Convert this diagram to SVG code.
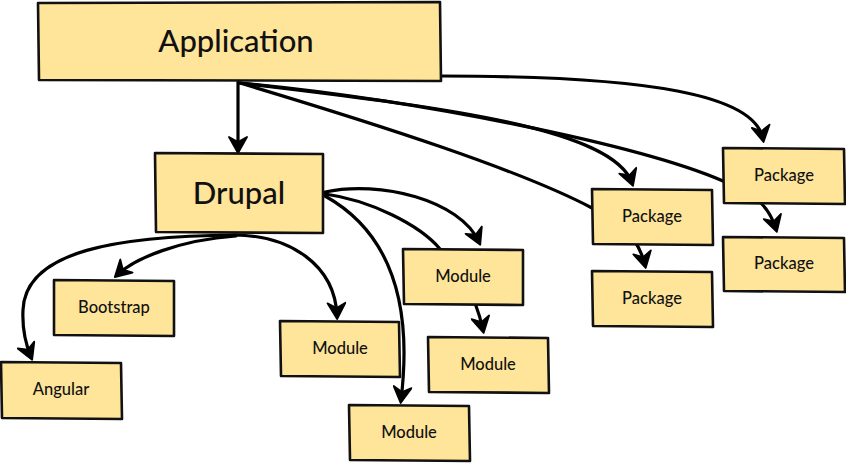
<svg xmlns="http://www.w3.org/2000/svg" width="846" height="463" viewBox="0 0 846 463">
<style>
.box{fill:#ffe599;stroke:#111;stroke-width:2.6;stroke-linejoin:round}
.lbl{font-family:Lato,"Noto Sans","Liberation Sans",sans-serif;fill:#111;text-anchor:middle;font-weight:500}
.big{font-size:31px}
.sm{font-size:16.5px}
.con path{fill:none;stroke:#000;stroke-width:3.2;stroke-linecap:round}
.con path.a{marker-end:url(#arr)}
</style>
<defs>
<marker id="arr" viewBox="-16 -10 20 20" refX="0" refY="0" markerWidth="20" markerHeight="20" markerUnits="userSpaceOnUse" orient="auto">
<path d="M3,0 L-13,-9 L-8,0 L-13,9 Z" fill="#000" stroke="#000" stroke-width="1.8" stroke-linejoin="round"/>
</marker>
</defs>
<rect width="846" height="463" fill="#fff"/>
<g id="connectors" class="con">
<path class="a" d="M238,82 L238,150"/>
<path class="a" d="M441,76 C650,76 755,95 763,139"/>
<path class="a" d="M240,83 C420,105 612,125 632,183"/>
<path class="a" d="M240,83 C420,100 640,145 723,181 L758,200 Q771,212 776,229"/>
<path class="a" d="M240,83 C380,125 520,170 592,208 L634,240 Q642,252 645,265"/>
<path class="a" d="M325,192 C380,180 460,200 479,242"/>
<path class="a" d="M325,194 C370,200 420,225 440,249 L475,303 Q480,316 483,330"/>
<path class="a" d="M325,196 C395,235 412,310 401,400"/>
<path class="a" d="M236,235 C120,236 25,250 23,310 C22,330 26,345 31,357"/>
<path class="a" d="M236,236 C180,240 135,258 117,275"/>
<path class="a" d="M234,235 C290,235 335,265 337,316"/>
</g>
<g id="application"><polygon class="box" points="38,3 440,2 441,81 39,80"/><text class="lbl big" x="236" y="52">Application</text></g>
<g id="drupal"><polygon class="box" points="155,153 323,154 323,233 156,232"/><text class="lbl big" x="239" y="204">Drupal</text></g>
<g id="bootstrap"><polygon class="box" points="54,280 174,281 174,336 54,335"/><text class="lbl sm" x="114" y="313">Bootstrap</text></g>
<g id="angular"><polygon class="box" points="1,362 121,363 122,419 2,418"/><text class="lbl sm" x="61" y="395">Angular</text></g>
<g id="module1"><polygon class="box" points="280,321 399,322 400,377 281,376"/><text class="lbl sm" x="340" y="354">Module</text></g>
<g id="module2"><polygon class="box" points="349,405 469,406 470,461 350,460"/><text class="lbl sm" x="409" y="438">Module</text></g>
<g id="module3"><polygon class="box" points="403,249 523,250 523,305 404,304"/><text class="lbl sm" x="463" y="282">Module</text></g>
<g id="module4"><polygon class="box" points="428,337 548,338 549,393 429,392"/><text class="lbl sm" x="488" y="370">Module</text></g>
<g id="package1"><polygon class="box" points="592,189 712,190 713,245 593,244"/><text class="lbl sm" x="652" y="222">Package</text></g>
<g id="package2"><polygon class="box" points="592,271 712,272 713,327 593,326"/><text class="lbl sm" x="652" y="304">Package</text></g>
<g id="package3"><polygon class="box" points="723,148 844,149 845,204 724,203"/><text class="lbl sm" x="784" y="181">Package</text></g>
<g id="package4"><polygon class="box" points="723,237 844,238 845,292 724,291"/><text class="lbl sm" x="784" y="269">Package</text></g>
</svg>
